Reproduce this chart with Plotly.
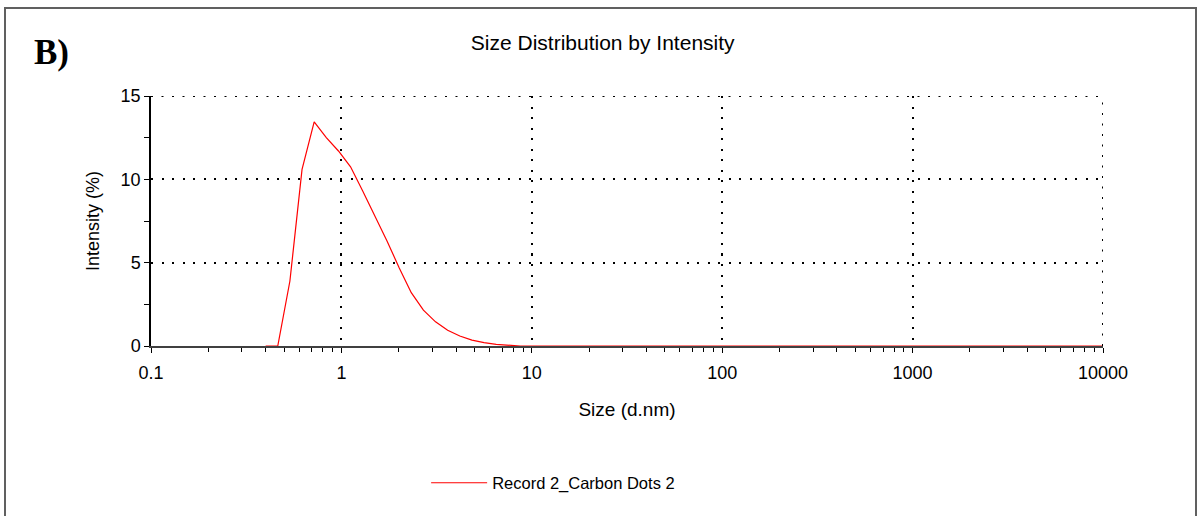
import plotly.graph_objects as go

# Size bins (d.nm) and intensity (%)
sizes = [0.4, 0.4632, 0.5365, 0.6213, 0.7195, 0.8332, 0.9649, 1.117, 1.294, 1.499,
         1.736, 2.010, 2.328, 2.696, 3.122, 3.615, 4.187, 4.849, 5.615, 6.503,
         7.531, 8.721, 10.10, 11.70, 13.54, 15.69, 18.17, 21.04, 24.36, 28.21,
         32.67, 37.84, 43.82, 50.75, 58.77, 68.06, 78.82, 91.28, 105.7, 122.4,
         141.8, 164.2, 190.1, 220.2, 255.0, 295.3, 342.0, 396.1, 458.7, 531.2,
         615.1, 712.4, 825.0, 955.4, 1106, 1281, 1484, 1718, 1990, 2305,
         2669, 3091, 3580, 4145, 4801, 5560, 6439, 7456, 8635, 10000]
intensity = [0.0, 0.0, 3.9, 10.6, 13.45, 12.5, 11.7, 10.75, 9.3, 7.8,
             6.3, 4.7, 3.2, 2.15, 1.45, 0.95, 0.6, 0.35, 0.2, 0.1,
             0.03, 0.0] + [0.0] * 48

x_major = [0.1, 1, 10, 100, 1000, 10000]
x_major_text = ["0.1", "1", "10", "100", "1000", "10000"]
x_minor = [m * d for d in [0.1, 1, 10, 100, 1000] for m in range(2, 10)]
y_major = [0, 5, 10, 15]
y_minor = [2.5, 7.5, 12.5]

series_name = "Record 2_Carbon Dots 2"
title_text = "Size Distribution by Intensity"
x_title = "Size (d.nm)"
y_title = "Intensity (%)"

FONT = "Liberation Sans, Arial, sans-serif"
GRID_DASH = "2px,8.5px"
GRID = dict(color="#000000", width=2, dash=GRID_DASH)

fig = go.Figure()
fig.add_trace(go.Scatter(x=sizes, y=intensity, mode="lines", name=series_name,
                         line=dict(color="#ff0000", width=1.2), cliponaxis=False))

fig.update_layout(
    width=1197, height=516,
    margin=dict(l=151, r=94, t=96, b=170),
    paper_bgcolor="white", plot_bgcolor="white",
    font=dict(family=FONT, color="#000000"),
    title=dict(text=title_text, x=0.5035, xanchor="center", y=1 - 43 / 516,
               yref="container", yanchor="middle",
               font=dict(family=FONT, size=21, color="#000000")),
    showlegend=True,
    legend=dict(x=0.289, y=-0.548, xanchor="left", yanchor="middle",
                font=dict(family=FONT, size=16.5, color="#000000"),
                bgcolor="rgba(0,0,0,0)", itemwidth=56),
    xaxis=dict(type="log", range=[-1, 4], layer="below traces",
               tickmode="array", tickvals=x_major, ticktext=x_major_text,
               ticks="outside", ticklen=5, tickcolor="#000000", tickwidth=1,
               ticklabelstandoff=5,
               showline=True, linecolor="#404040", linewidth=1.5,
               showgrid=True, gridcolor="#000000", gridwidth=2, griddash=GRID_DASH,
               zeroline=False,
               minor=dict(tickvals=x_minor, ticks="outside", ticklen=4,
                          tickcolor="#000000", showgrid=False),
               tickfont=dict(family=FONT, size=18, color="#000000"),
               title=dict(text=x_title, standoff=20,
                          font=dict(family=FONT, size=19, color="#000000"))),
    yaxis=dict(range=[0, 15], layer="below traces",
               tickmode="array", tickvals=y_major,
               ticks="outside", ticklen=5, tickcolor="#000000", tickwidth=1,
               showline=True, linecolor="#000000", linewidth=1.5,
               showgrid=True, gridcolor="#000000", gridwidth=2, griddash=GRID_DASH,
               zeroline=False,
               minor=dict(tickvals=y_minor, ticks="outside", ticklen=5,
                          tickcolor="#000000", showgrid=False),
               tickfont=dict(family=FONT, size=18, color="#000000"),
               title=dict(text=y_title, standoff=16,
                          font=dict(family=FONT, size=18, color="#000000"))),
)

# Dotted grid lines at the upper range edges (top and right of the plot box)
fig.add_shape(type="line", xref="x domain", yref="y", x0=0, x1=1,
              y0=y_major[-1], y1=y_major[-1], line=GRID, layer="above")
fig.add_shape(type="line", xref="x", yref="y domain", x0=x_major[-1], x1=x_major[-1],
              y0=0, y1=1, line=GRID, layer="above")

# Panel label
fig.add_annotation(text="<b>B)</b>", xref="paper", yref="paper",
                   x=(32 - 151) / 952, y=(346 - 52) / 250,
                   xanchor="left", yanchor="middle", showarrow=False,
                   font=dict(family="Liberation Serif, Times New Roman, serif",
                             size=35, color="#000000"))

# Figure border
fig.add_shape(type="rect", xref="paper", yref="paper",
              x0=(5 - 151) / 952, x1=(1196 - 151) / 952,
              y0=(346 - 530) / 250, y1=(346 - 8) / 250,
              line=dict(color="#606060", width=2), fillcolor="rgba(0,0,0,0)",
              layer="below")

fig.write_html("out.html",
               config={"displayModeBar": False},
               post_script="document.body.style.margin='0';"
                           "document.body.style.padding='0';")
